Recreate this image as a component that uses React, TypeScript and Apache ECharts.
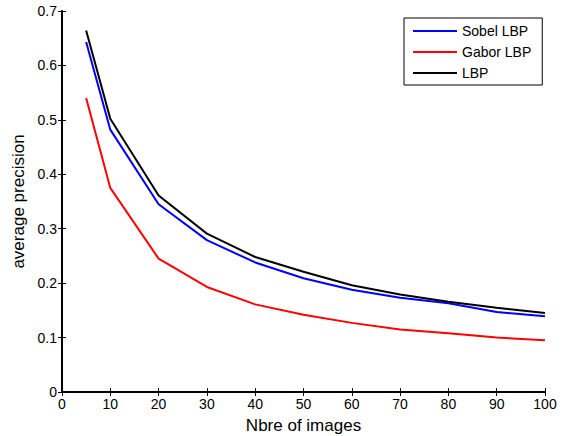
import React, { useEffect, useRef } from "react";
import * as echarts from "echarts";

const xValues = [5, 10, 20, 30, 40, 50, 60, 70, 80, 90, 100];
const sobelLBP = [0.643, 0.482, 0.345, 0.279, 0.238, 0.209, 0.188, 0.173, 0.163, 0.147, 0.139];
const gaborLBP = [0.54, 0.375, 0.245, 0.193, 0.161, 0.142, 0.127, 0.115, 0.108, 0.1, 0.095];
const lbp = [0.664, 0.502, 0.361, 0.291, 0.248, 0.221, 0.196, 0.179, 0.166, 0.155, 0.145];
const legendNames = ["Sobel LBP", "Gabor LBP", "LBP"];

const FONT = "'Liberation Sans', Arial, sans-serif";

function pairs(ys: number[]) {
  return xValues.map((x, i) => [x, ys[i]]);
}

export default function App() {
  const ref = useRef<HTMLDivElement>(null);
  useEffect(() => {
    if (!ref.current) return;
    const chart = echarts.init(ref.current, undefined, { renderer: "svg" });
    const mainLine = { show: true, lineStyle: { color: "#000", width: 2 } };
    const sideLine = { show: true, lineStyle: { color: "#000", width: 1.5 } };
    const tick = { show: true, inside: true, length: 4, lineStyle: { color: "#000" } };
    chart.setOption({
      animation: false,
      backgroundColor: "#fff",
      textStyle: { fontFamily: FONT },
      grid: { left: 62, right: 26, top: 11, bottom: 44, containLabel: false, outerBoundsMode: "none" },
      legend: {
        orient: "vertical",
        left: 404,
        top: 18,
        padding: [6, 11, 5, 9],
        itemGap: 7,
        itemWidth: 44,
        itemHeight: 2,
        icon: "rect",
        borderColor: "#000",
        borderWidth: 1,
        borderRadius: 0,
        backgroundColor: "#fff",
        textStyle: { fontFamily: FONT, fontSize: 14, color: "#000", lineHeight: 14 },
        data: legendNames,
      },
      xAxis: [
        {
          type: "value",
          min: 0,
          max: 100,
          interval: 10,
          position: "bottom",
          axisLine: mainLine,
          axisTick: tick,
          splitLine: { show: false },
          axisLabel: { color: "#000", fontSize: 14, fontFamily: FONT, margin: 5 },
          name: "Nbre of images",
          nameLocation: "middle",
          nameGap: 25,
          nameTextStyle: { color: "#000", fontSize: 17, fontFamily: FONT },
        },
        {
          type: "value",
          min: 0,
          max: 100,
          interval: 10,
          position: "top",
          axisLine: sideLine,
          axisTick: tick,
          splitLine: { show: false },
          axisLabel: { show: false },
        },
      ],
      yAxis: [
        {
          type: "value",
          min: 0,
          max: 0.7,
          interval: 0.1,
          position: "left",
          axisLine: mainLine,
          axisTick: tick,
          splitLine: { show: false },
          axisLabel: {
            color: "#000",
            fontSize: 14,
            fontFamily: FONT,
            margin: 5,
            formatter: (v: number) => (v === 0 ? "0" : v.toFixed(1)),
          },
          name: "average precision",
          nameLocation: "middle",
          nameGap: 33,
          nameTextStyle: { color: "#000", fontSize: 17, fontFamily: FONT },
        },
        {
          type: "value",
          min: 0,
          max: 0.7,
          interval: 0.1,
          position: "right",
          axisLine: sideLine,
          axisTick: tick,
          splitLine: { show: false },
          axisLabel: { show: false },
        },
      ],
      series: [
        {
          name: legendNames[0],
          type: "line",
          data: pairs(sobelLBP),
          showSymbol: false,
          symbol: "none",
          itemStyle: { color: "#0000ff" },
          lineStyle: { color: "#0000ff", width: 2 },
        },
        {
          name: legendNames[1],
          type: "line",
          data: pairs(gaborLBP),
          showSymbol: false,
          symbol: "none",
          itemStyle: { color: "#ff0000" },
          lineStyle: { color: "#ff0000", width: 2 },
        },
        {
          name: legendNames[2],
          type: "line",
          data: pairs(lbp),
          showSymbol: false,
          symbol: "none",
          itemStyle: { color: "#000000" },
          lineStyle: { color: "#000000", width: 2 },
        },
      ],
    });
    return () => chart.dispose();
  }, []);
  return (
    <div
      ref={ref}
      style={{ position: "fixed", left: 0, top: 0, width: 571, height: 436, background: "#fff" }}
    />
  );
}
